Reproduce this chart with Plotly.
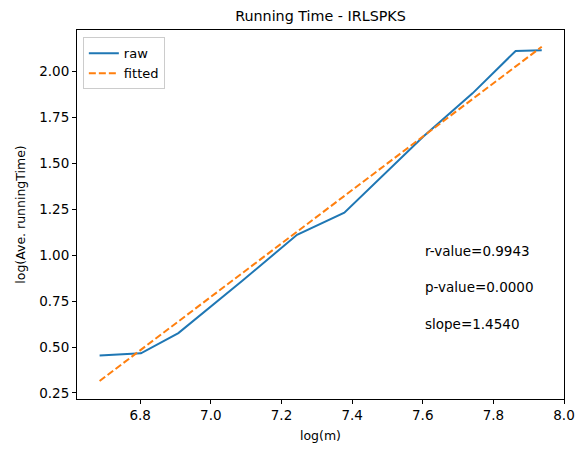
import plotly.graph_objects as go

# log(m) values and measured log running time
log_m = [6.685, 6.802, 6.908, 7.090, 7.244, 7.378, 7.601, 7.741, 7.863, 7.937]
raw_time = [0.454, 0.466, 0.576, 0.862, 1.111, 1.231, 1.645, 1.881, 2.112, 2.116]
fitted_time = [0.315, 0.485, 0.639, 0.904, 1.128, 1.323, 1.647, 1.850, 2.028, 2.135]

stats_text = ['r-value=0.9943', 'p-value=0.0000', 'slope=1.4540']
stats_y = [1.025, 0.825, 0.625]

fig = go.Figure()
fig.add_trace(go.Scatter(
    x=log_m, y=raw_time, mode='lines', name='raw',
    line={'color': '#1f77b4', 'width': 2},
))
fig.add_trace(go.Scatter(
    x=log_m, y=fitted_time, mode='lines', name='fitted',
    line={'color': '#ff7f0e', 'width': 2, 'dash': '7px,3px'},
))

# r / p / slope text
for txt, yy in zip(stats_text, stats_y):
    fig.add_annotation(x=7.6, y=yy, text=txt, showarrow=False,
                       xanchor='left', yanchor='middle',
                       font={'size': 13.5, 'color': 'black'})

axis_style = {
    'showgrid': False, 'zeroline': False,
    'showline': True, 'linecolor': 'black', 'linewidth': 1, 'mirror': True,
    'ticks': 'outside', 'ticklen': 4, 'tickcolor': 'black',
    'tickfont': {'size': 13.5, 'color': 'black'},
}

# page has an 8px body margin, so the figure is sized to fit the window
fig.update_layout(
    width=579, height=445,
    margin={'l': 62, 'r': 20, 't': 22, 'b': 53},
    font={'family': 'DejaVu Sans', 'color': 'black'},
    title={'text': 'Running Time - IRLSPKS', 'x': 0.5, 'xref': 'paper',
           'xanchor': 'center', 'y': 1 - 8 / 445, 'yanchor': 'middle',
           'font': {'size': 14.3}},
    xaxis={**axis_style, 'range': [6.621, 8.0],
           'tickvals': [6.8, 7.0, 7.2, 7.4, 7.6, 7.8, 8.0],
           'ticktext': ['6.8', '7.0', '7.2', '7.4', '7.6', '7.8', '8.0'],
           'title': {'text': 'log(m)', 'font': {'size': 12.5}, 'standoff': 9}},
    yaxis={**axis_style, 'range': [0.217, 2.226],
           'tickvals': [0.25, 0.5, 0.75, 1.0, 1.25, 1.5, 1.75, 2.0],
           'ticktext': ['0.25', '0.50', '0.75', '1.00', '1.25', '1.50', '1.75', '2.00'],
           'title': {'text': 'log(Ave. runningTime)', 'font': {'size': 12.5}, 'standoff': 10}},
    legend={'x': 0.012, 'y': 0.98, 'xanchor': 'left', 'yanchor': 'top',
            'bordercolor': '#cccccc', 'borderwidth': 1, 'bgcolor': 'white',
            'font': {'size': 13}, 'tracegroupgap': 0},
    plot_bgcolor='white',
    paper_bgcolor='white',
)

fig.write_html("out.html")
